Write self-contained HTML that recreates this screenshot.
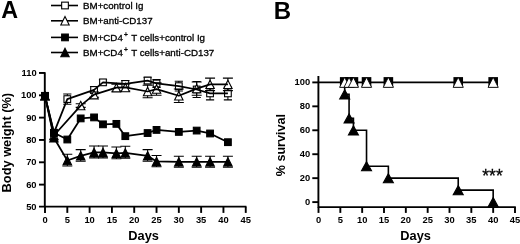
<!DOCTYPE html><html><head><meta charset="utf-8"><title>chart</title><style>html,body{margin:0;padding:0;background:#fff}body{width:520px;height:244px;position:relative;overflow:hidden}</style></head><body>
<svg width="520" height="244" viewBox="0 0 520 244" style="position:absolute;left:0;top:0;will-change:transform" font-family="Liberation Sans, sans-serif" fill="#000">
<path d="M44.8 72.3 V207 M39 206.6 H246.4" stroke="#000" stroke-width="1.9" fill="none"/>
<path d="M39 72.97 H45" stroke="#000" stroke-width="1.9"/>
<path d="M39 95.30 H45" stroke="#000" stroke-width="1.9"/>
<path d="M39 117.63 H45" stroke="#000" stroke-width="1.9"/>
<path d="M39 139.96 H45" stroke="#000" stroke-width="1.9"/>
<path d="M39 162.29 H45" stroke="#000" stroke-width="1.9"/>
<path d="M39 184.62 H45" stroke="#000" stroke-width="1.9"/>
<path d="M45.00 206.6 V212.9" stroke="#000" stroke-width="1.9"/>
<path d="M67.31 206.6 V212.9" stroke="#000" stroke-width="1.9"/>
<path d="M89.61 206.6 V212.9" stroke="#000" stroke-width="1.9"/>
<path d="M111.92 206.6 V212.9" stroke="#000" stroke-width="1.9"/>
<path d="M134.22 206.6 V212.9" stroke="#000" stroke-width="1.9"/>
<path d="M156.53 206.6 V212.9" stroke="#000" stroke-width="1.9"/>
<path d="M178.83 206.6 V212.9" stroke="#000" stroke-width="1.9"/>
<path d="M201.14 206.6 V212.9" stroke="#000" stroke-width="1.9"/>
<path d="M223.44 206.6 V212.9" stroke="#000" stroke-width="1.9"/>
<path d="M245.75 206.6 V212.9" stroke="#000" stroke-width="1.9"/>
<path d="M67.31 93.96 V104.23 M63.21 93.96 H71.41 M63.21 104.23 H71.41" stroke="#000" stroke-width="1.05" fill="none"/>
<path d="M94.07 86.59 V93.29 M89.97 86.59 H98.17 M89.97 93.29 H98.17" stroke="#000" stroke-width="1.05" fill="none"/>
<path d="M102.99 79.67 V85.03 M98.89 79.67 H107.09 M98.89 85.03 H107.09" stroke="#000" stroke-width="1.05" fill="none"/>
<path d="M125.30 80.56 V87.26 M121.20 80.56 H129.40 M121.20 87.26 H129.40" stroke="#000" stroke-width="1.05" fill="none"/>
<path d="M147.61 77.21 V83.91 M143.51 77.21 H151.71 M143.51 83.91 H151.71" stroke="#000" stroke-width="1.05" fill="none"/>
<path d="M156.53 79.45 V87.48 M152.43 79.45 H160.63 M152.43 87.48 H160.63" stroke="#000" stroke-width="1.05" fill="none"/>
<path d="M178.83 81.23 V91.06 M174.73 81.23 H182.93 M174.73 91.06 H182.93" stroke="#000" stroke-width="1.05" fill="none"/>
<path d="M196.68 81.46 V97.53 M192.58 81.46 H200.78 M192.58 97.53 H200.78" stroke="#000" stroke-width="1.05" fill="none"/>
<path d="M210.06 86.93 V99.88 M205.96 86.93 H214.16 M205.96 99.88 H214.16" stroke="#000" stroke-width="1.05" fill="none"/>
<path d="M227.91 86.93 V99.88 M223.81 86.93 H232.01 M223.81 99.88 H232.01" stroke="#000" stroke-width="1.05" fill="none"/>
<rect x="41.65" y="92.51" width="6.70" height="6.70" fill="#fff" stroke="#000" stroke-width="1.1"/>
<rect x="50.57" y="129.46" width="6.70" height="6.70" fill="#fff" stroke="#000" stroke-width="1.1"/>
<rect x="63.96" y="95.75" width="6.70" height="6.70" fill="#fff" stroke="#000" stroke-width="1.1"/>
<rect x="90.72" y="86.59" width="6.70" height="6.70" fill="#fff" stroke="#000" stroke-width="1.1"/>
<rect x="99.64" y="79.00" width="6.70" height="6.70" fill="#fff" stroke="#000" stroke-width="1.1"/>
<rect x="121.95" y="80.56" width="6.70" height="6.70" fill="#fff" stroke="#000" stroke-width="1.1"/>
<rect x="144.26" y="77.21" width="6.70" height="6.70" fill="#fff" stroke="#000" stroke-width="1.1"/>
<rect x="153.18" y="80.12" width="6.70" height="6.70" fill="#fff" stroke="#000" stroke-width="1.1"/>
<rect x="175.48" y="82.79" width="6.70" height="6.70" fill="#fff" stroke="#000" stroke-width="1.1"/>
<rect x="193.33" y="86.14" width="6.70" height="6.70" fill="#fff" stroke="#000" stroke-width="1.1"/>
<rect x="206.71" y="90.05" width="6.70" height="6.70" fill="#fff" stroke="#000" stroke-width="1.1"/>
<rect x="224.56" y="90.05" width="6.70" height="6.70" fill="#fff" stroke="#000" stroke-width="1.1"/>
<path d="M80.69 103.79 V107.36 M75.69 103.79 H85.69 M75.69 107.36 H85.69" stroke="#000" stroke-width="1.05" fill="none"/>
<path d="M94.07 91.95 V97.31 M89.07 91.95 H99.07 M89.07 97.31 H99.07" stroke="#000" stroke-width="1.05" fill="none"/>
<path d="M116.38 84.13 V91.28 M111.38 84.13 H121.38 M111.38 91.28 H121.38" stroke="#000" stroke-width="1.05" fill="none"/>
<path d="M125.30 83.91 V91.06 M120.30 83.91 H130.30 M120.30 91.06 H130.30" stroke="#000" stroke-width="1.05" fill="none"/>
<path d="M147.61 85.25 V97.76 M142.61 85.25 H152.61 M142.61 97.76 H152.61" stroke="#000" stroke-width="1.05" fill="none"/>
<path d="M156.53 82.80 V95.30 M151.53 82.80 H161.53 M151.53 95.30 H161.53" stroke="#000" stroke-width="1.05" fill="none"/>
<path d="M178.83 89.05 V102.45 M173.83 89.05 H183.83 M173.83 102.45 H183.83" stroke="#000" stroke-width="1.05" fill="none"/>
<path d="M196.68 81.90 V95.30 M191.68 81.90 H201.68 M191.68 95.30 H201.68" stroke="#000" stroke-width="1.05" fill="none"/>
<path d="M210.06 78.11 V90.61 M205.06 78.11 H215.06 M205.06 90.61 H215.06" stroke="#000" stroke-width="1.05" fill="none"/>
<path d="M227.91 78.11 V90.61 M222.91 78.11 H232.91 M222.91 90.61 H232.91" stroke="#000" stroke-width="1.05" fill="none"/>
<path d="M45.00 91.66 L49.20 100.06 L40.80 100.06 Z" fill="#fff" stroke="#000" stroke-width="1.1"/>
<path d="M53.92 131.29 L58.12 139.69 L49.72 139.69 Z" fill="#fff" stroke="#000" stroke-width="1.1"/>
<path d="M80.69 101.37 L84.89 109.77 L76.49 109.77 Z" fill="#fff" stroke="#000" stroke-width="1.1"/>
<path d="M94.07 90.43 L98.27 98.83 L89.87 98.83 Z" fill="#fff" stroke="#000" stroke-width="1.1"/>
<path d="M116.38 83.51 L120.58 91.91 L112.18 91.91 Z" fill="#fff" stroke="#000" stroke-width="1.1"/>
<path d="M125.30 83.28 L129.50 91.68 L121.10 91.68 Z" fill="#fff" stroke="#000" stroke-width="1.1"/>
<path d="M147.61 87.30 L151.81 95.70 L143.41 95.70 Z" fill="#fff" stroke="#000" stroke-width="1.1"/>
<path d="M156.53 84.85 L160.73 93.25 L152.33 93.25 Z" fill="#fff" stroke="#000" stroke-width="1.1"/>
<path d="M178.83 91.55 L183.03 99.95 L174.63 99.95 Z" fill="#fff" stroke="#000" stroke-width="1.1"/>
<path d="M196.68 84.40 L200.88 92.80 L192.48 92.80 Z" fill="#fff" stroke="#000" stroke-width="1.1"/>
<path d="M210.06 80.16 L214.26 88.56 L205.86 88.56 Z" fill="#fff" stroke="#000" stroke-width="1.1"/>
<path d="M227.91 80.16 L232.11 88.56 L223.71 88.56 Z" fill="#fff" stroke="#000" stroke-width="1.1"/>
<polyline fill="none" stroke="#000" stroke-width="1.75" stroke-linejoin="round" points="45.00,95.86 53.92,132.81 67.31,99.10 94.07,89.94 102.99,82.35 125.30,83.91 147.61,80.56 156.53,83.47 178.83,86.14 196.68,89.49 210.06,93.40 227.91,93.40"/>
<polyline fill="none" stroke="#000" stroke-width="1.75" stroke-linejoin="round" points="45.00,95.86 53.92,135.49 80.69,105.57 94.07,94.63 116.38,87.71 125.30,87.48 147.61,91.50 156.53,89.05 178.83,95.75 196.68,88.60 210.06,84.36 227.91,84.36"/>
<polyline fill="none" stroke="#000" stroke-width="1.75" stroke-linejoin="round" points="45.00,95.86 53.92,132.81 67.31,139.51 80.69,118.41 94.07,117.41 102.99,124.33 116.38,123.88 125.30,136.16 147.61,133.04 156.53,129.91 178.83,131.92 196.68,130.58 210.06,133.48 227.91,142.19"/>
<polyline fill="none" stroke="#000" stroke-width="1.75" stroke-linejoin="round" points="45.00,95.86 53.92,137.73 67.31,160.50 80.69,155.81 94.07,152.46 102.99,152.46 116.38,153.36 125.30,152.91 147.61,155.81 156.53,161.40 178.83,161.84 196.68,161.84 210.06,161.84 227.91,161.84"/>
<path d="M67.31 154.30 V165.90 M62.31 154.30 H72.31 M62.31 165.90 H72.31" stroke="#000" stroke-width="1.05" fill="none"/>
<path d="M80.69 149.61 V161.21 M75.69 149.61 H85.69 M75.69 161.21 H85.69" stroke="#000" stroke-width="1.05" fill="none"/>
<path d="M94.07 146.06 V157.86 M89.07 146.06 H99.07 M89.07 157.86 H99.07" stroke="#000" stroke-width="1.05" fill="none"/>
<path d="M102.99 146.06 V157.86 M97.99 146.06 H107.99 M97.99 157.86 H107.99" stroke="#000" stroke-width="1.05" fill="none"/>
<path d="M116.38 146.96 V158.76 M111.38 146.96 H121.38 M111.38 158.76 H121.38" stroke="#000" stroke-width="1.05" fill="none"/>
<path d="M125.30 146.31 V158.31 M120.30 146.31 H130.30 M120.30 158.31 H130.30" stroke="#000" stroke-width="1.05" fill="none"/>
<path d="M147.61 149.61 V161.21 M142.61 149.61 H152.61 M142.61 161.21 H152.61" stroke="#000" stroke-width="1.05" fill="none"/>
<path d="M156.53 155.40 V166.80 M151.53 155.40 H161.53 M151.53 166.80 H161.53" stroke="#000" stroke-width="1.05" fill="none"/>
<path d="M178.83 156.24 V167.14 M173.83 156.24 H183.83 M173.83 167.14 H183.83" stroke="#000" stroke-width="1.05" fill="none"/>
<path d="M196.68 156.24 V167.14 M191.68 156.24 H201.68 M191.68 167.14 H201.68" stroke="#000" stroke-width="1.05" fill="none"/>
<path d="M210.06 156.24 V167.14 M205.06 156.24 H215.06 M205.06 167.14 H215.06" stroke="#000" stroke-width="1.05" fill="none"/>
<path d="M227.91 156.24 V167.14 M222.91 156.24 H232.91 M222.91 167.14 H232.91" stroke="#000" stroke-width="1.05" fill="none"/>
<path d="M45.00 91.66 L49.20 100.06 L40.80 100.06 Z" fill="#000" stroke="#000" stroke-width="1.1"/>
<path d="M53.92 133.53 L58.12 141.93 L49.72 141.93 Z" fill="#000" stroke="#000" stroke-width="1.1"/>
<path d="M67.31 156.30 L71.51 164.70 L63.11 164.70 Z" fill="#000" stroke="#000" stroke-width="1.1"/>
<path d="M80.69 151.61 L84.89 160.01 L76.49 160.01 Z" fill="#000" stroke="#000" stroke-width="1.1"/>
<path d="M94.07 148.26 L98.27 156.66 L89.87 156.66 Z" fill="#000" stroke="#000" stroke-width="1.1"/>
<path d="M102.99 148.26 L107.19 156.66 L98.79 156.66 Z" fill="#000" stroke="#000" stroke-width="1.1"/>
<path d="M116.38 149.16 L120.58 157.56 L112.18 157.56 Z" fill="#000" stroke="#000" stroke-width="1.1"/>
<path d="M125.30 148.71 L129.50 157.11 L121.10 157.11 Z" fill="#000" stroke="#000" stroke-width="1.1"/>
<path d="M147.61 151.61 L151.81 160.01 L143.41 160.01 Z" fill="#000" stroke="#000" stroke-width="1.1"/>
<path d="M156.53 157.20 L160.73 165.60 L152.33 165.60 Z" fill="#000" stroke="#000" stroke-width="1.1"/>
<path d="M178.83 157.64 L183.03 166.04 L174.63 166.04 Z" fill="#000" stroke="#000" stroke-width="1.1"/>
<path d="M196.68 157.64 L200.88 166.04 L192.48 166.04 Z" fill="#000" stroke="#000" stroke-width="1.1"/>
<path d="M210.06 157.64 L214.26 166.04 L205.86 166.04 Z" fill="#000" stroke="#000" stroke-width="1.1"/>
<path d="M227.91 157.64 L232.11 166.04 L223.71 166.04 Z" fill="#000" stroke="#000" stroke-width="1.1"/>
<rect x="41.65" y="92.51" width="6.70" height="6.70" fill="#000" stroke="#000" stroke-width="1.1"/>
<rect x="50.57" y="129.46" width="6.70" height="6.70" fill="#000" stroke="#000" stroke-width="1.1"/>
<rect x="63.96" y="136.16" width="6.70" height="6.70" fill="#000" stroke="#000" stroke-width="1.1"/>
<rect x="77.34" y="115.06" width="6.70" height="6.70" fill="#000" stroke="#000" stroke-width="1.1"/>
<rect x="90.72" y="114.06" width="6.70" height="6.70" fill="#000" stroke="#000" stroke-width="1.1"/>
<rect x="99.64" y="120.98" width="6.70" height="6.70" fill="#000" stroke="#000" stroke-width="1.1"/>
<rect x="113.03" y="120.53" width="6.70" height="6.70" fill="#000" stroke="#000" stroke-width="1.1"/>
<rect x="121.95" y="132.81" width="6.70" height="6.70" fill="#000" stroke="#000" stroke-width="1.1"/>
<rect x="144.26" y="129.69" width="6.70" height="6.70" fill="#000" stroke="#000" stroke-width="1.1"/>
<rect x="153.18" y="126.56" width="6.70" height="6.70" fill="#000" stroke="#000" stroke-width="1.1"/>
<rect x="175.48" y="128.57" width="6.70" height="6.70" fill="#000" stroke="#000" stroke-width="1.1"/>
<rect x="193.33" y="127.23" width="6.70" height="6.70" fill="#000" stroke="#000" stroke-width="1.1"/>
<rect x="206.71" y="130.13" width="6.70" height="6.70" fill="#000" stroke="#000" stroke-width="1.1"/>
<rect x="224.56" y="138.84" width="6.70" height="6.70" fill="#000" stroke="#000" stroke-width="1.1"/>
<path d="M51 5.5 H78" stroke="#000" stroke-width="1.6"/>
<rect x="61.65" y="2.15" width="6.70" height="6.70" fill="#fff" stroke="#000" stroke-width="1.1"/>
<path d="M51 20.8 H78" stroke="#000" stroke-width="1.6"/>
<path d="M65.00 16.60 L69.20 25.00 L60.80 25.00 Z" fill="#fff" stroke="#000" stroke-width="1.1"/>
<path d="M51 37.4 H78" stroke="#000" stroke-width="1.6"/>
<rect x="61.65" y="34.05" width="6.70" height="6.70" fill="#000" stroke="#000" stroke-width="1.1"/>
<path d="M51 52.5 H78" stroke="#000" stroke-width="1.6"/>
<path d="M65.00 48.30 L69.20 56.70 L60.80 56.70 Z" fill="#000" stroke="#000" stroke-width="1.1"/>
<path d="M318.4 76 V207.3 M317.6 207.1 H515.8" stroke="#000" stroke-width="1.9" fill="none"/>
<path d="M312.3 202.10 H318.4" stroke="#000" stroke-width="1.9"/>
<path d="M312.3 178.16 H318.4" stroke="#000" stroke-width="1.9"/>
<path d="M312.3 154.22 H318.4" stroke="#000" stroke-width="1.9"/>
<path d="M312.3 130.28 H318.4" stroke="#000" stroke-width="1.9"/>
<path d="M312.3 106.34 H318.4" stroke="#000" stroke-width="1.9"/>
<path d="M312.3 82.40 H318.4" stroke="#000" stroke-width="1.9"/>
<path d="M318.50 207 V212.9" stroke="#000" stroke-width="1.9"/>
<path d="M340.33 207 V212.9" stroke="#000" stroke-width="1.9"/>
<path d="M362.17 207 V212.9" stroke="#000" stroke-width="1.9"/>
<path d="M384.00 207 V212.9" stroke="#000" stroke-width="1.9"/>
<path d="M405.83 207 V212.9" stroke="#000" stroke-width="1.9"/>
<path d="M427.67 207 V212.9" stroke="#000" stroke-width="1.9"/>
<path d="M449.50 207 V212.9" stroke="#000" stroke-width="1.9"/>
<path d="M471.33 207 V212.9" stroke="#000" stroke-width="1.9"/>
<path d="M493.17 207 V212.9" stroke="#000" stroke-width="1.9"/>
<path d="M515.00 207 V212.9" stroke="#000" stroke-width="1.9"/>
<polyline fill="none" stroke="#000" stroke-width="1.6" points="344.70,82.40 344.70,94.37 349.07,94.37 349.07,118.31 353.43,118.31 353.43,130.28 366.53,130.28 366.53,166.19 388.37,166.19 388.37,178.16 458.23,178.16 458.23,190.13 493.17,190.13 493.17,202.10"/>
<path d="M344.70 89.87 L349.70 98.97 L339.70 98.97 Z" fill="#000" stroke="#000" stroke-width="1.1"/>
<path d="M349.07 113.81 L354.07 122.91 L344.07 122.91 Z" fill="#000" stroke="#000" stroke-width="1.1"/>
<path d="M353.43 125.78 L358.43 134.88 L348.43 134.88 Z" fill="#000" stroke="#000" stroke-width="1.1"/>
<path d="M366.53 161.69 L371.53 170.79 L361.53 170.79 Z" fill="#000" stroke="#000" stroke-width="1.1"/>
<path d="M388.37 173.66 L393.37 182.76 L383.37 182.76 Z" fill="#000" stroke="#000" stroke-width="1.1"/>
<path d="M458.23 185.63 L463.23 194.73 L453.23 194.73 Z" fill="#000" stroke="#000" stroke-width="1.1"/>
<path d="M493.17 197.60 L498.17 206.70 L488.17 206.70 Z" fill="#000" stroke="#000" stroke-width="1.1"/>
<path d="M318.4 82.40 H493.17" stroke="#000" stroke-width="1.6"/>
<rect x="339.90" y="77.10" width="9.6" height="10.2" fill="#000"/>
<rect x="344.27" y="77.10" width="9.6" height="10.2" fill="#000"/>
<rect x="348.63" y="77.10" width="9.6" height="10.2" fill="#000"/>
<rect x="361.73" y="77.10" width="9.6" height="10.2" fill="#000"/>
<rect x="383.57" y="77.10" width="9.6" height="10.2" fill="#000"/>
<rect x="453.43" y="77.10" width="9.6" height="10.2" fill="#000"/>
<rect x="488.37" y="77.10" width="9.6" height="10.2" fill="#000"/>
<path d="M344.70 77.30 L349.80 87.35 L339.60 87.35 Z" fill="#fff" stroke="#000" stroke-width="0.9"/>
<path d="M349.07 77.30 L354.17 87.35 L343.97 87.35 Z" fill="#fff" stroke="#000" stroke-width="0.9"/>
<path d="M353.43 77.30 L358.53 87.35 L348.33 87.35 Z" fill="#fff" stroke="#000" stroke-width="0.9"/>
<path d="M366.53 77.30 L371.63 87.35 L361.43 87.35 Z" fill="#fff" stroke="#000" stroke-width="0.9"/>
<path d="M388.37 77.30 L393.47 87.35 L383.27 87.35 Z" fill="#fff" stroke="#000" stroke-width="0.9"/>
<path d="M458.23 77.30 L463.33 87.35 L453.13 87.35 Z" fill="#fff" stroke="#000" stroke-width="0.9"/>
<path d="M493.17 77.30 L498.27 87.35 L488.07 87.35 Z" fill="#fff" stroke="#000" stroke-width="0.9"/>
<text x="1.3" y="18.3" font-size="23.3" font-weight="bold" text-anchor="start" >A</text>
<text x="273.8" y="18.6" font-size="24" font-weight="bold" text-anchor="start" >B</text>
<text x="83.0" y="9" font-size="9.75" font-weight="normal" text-anchor="start" stroke="#000" stroke-width="0.3">BM+control Ig</text>
<text x="83.0" y="24.3" font-size="9.75" font-weight="normal" text-anchor="start" stroke="#000" stroke-width="0.3">BM+anti-CD137</text>
<text x="83.0" y="41.2" font-size="9.75" font-weight="normal" text-anchor="start" stroke="#000" stroke-width="0.3">BM+CD4<tspan font-size="6.6" dy="-4.3" dx="1.2">+</tspan><tspan dy="4.3" dx="0.8"> </tspan>T cells+control Ig</text>
<text x="83.0" y="55.8" font-size="9.75" font-weight="normal" text-anchor="start" stroke="#000" stroke-width="0.3">BM+CD4<tspan font-size="6.6" dy="-4.3" dx="1.2">+</tspan><tspan dy="4.3" dx="0.8"> </tspan>T cells+anti-CD137</text>
<text x="36.6" y="75.8" font-size="9.4" font-weight="bold" text-anchor="end" >110</text>
<text x="36.6" y="98.1" font-size="9.4" font-weight="bold" text-anchor="end" >100</text>
<text x="36.6" y="120.5" font-size="9.4" font-weight="bold" text-anchor="end" >90</text>
<text x="36.6" y="142.8" font-size="9.4" font-weight="bold" text-anchor="end" >80</text>
<text x="36.6" y="165.1" font-size="9.4" font-weight="bold" text-anchor="end" >70</text>
<text x="36.6" y="187.5" font-size="9.4" font-weight="bold" text-anchor="end" >60</text>
<text x="36.6" y="209.8" font-size="9.4" font-weight="bold" text-anchor="end" >50</text>
<text x="45.0" y="222.7" font-size="9.4" font-weight="bold" text-anchor="middle" >0</text>
<text x="67.3" y="222.7" font-size="9.4" font-weight="bold" text-anchor="middle" >5</text>
<text x="89.6" y="222.7" font-size="9.4" font-weight="bold" text-anchor="middle" >10</text>
<text x="111.9" y="222.7" font-size="9.4" font-weight="bold" text-anchor="middle" >15</text>
<text x="134.2" y="222.7" font-size="9.4" font-weight="bold" text-anchor="middle" >20</text>
<text x="156.5" y="222.7" font-size="9.4" font-weight="bold" text-anchor="middle" >25</text>
<text x="178.8" y="222.7" font-size="9.4" font-weight="bold" text-anchor="middle" >30</text>
<text x="201.1" y="222.7" font-size="9.4" font-weight="bold" text-anchor="middle" >35</text>
<text x="223.4" y="222.7" font-size="9.4" font-weight="bold" text-anchor="middle" >40</text>
<text x="245.8" y="222.7" font-size="9.4" font-weight="bold" text-anchor="middle" >45</text>
<text x="310.2" y="205.0" font-size="9.4" font-weight="bold" text-anchor="end" >0</text>
<text x="310.2" y="181.1" font-size="9.4" font-weight="bold" text-anchor="end" >20</text>
<text x="310.2" y="157.1" font-size="9.4" font-weight="bold" text-anchor="end" >40</text>
<text x="310.2" y="133.2" font-size="9.4" font-weight="bold" text-anchor="end" >60</text>
<text x="310.2" y="109.2" font-size="9.4" font-weight="bold" text-anchor="end" >80</text>
<text x="310.2" y="85.3" font-size="9.4" font-weight="bold" text-anchor="end" >100</text>
<text x="318.5" y="223.0" font-size="9.4" font-weight="bold" text-anchor="middle" >0</text>
<text x="340.3" y="223.0" font-size="9.4" font-weight="bold" text-anchor="middle" >5</text>
<text x="362.2" y="223.0" font-size="9.4" font-weight="bold" text-anchor="middle" >10</text>
<text x="384.0" y="223.0" font-size="9.4" font-weight="bold" text-anchor="middle" >15</text>
<text x="405.8" y="223.0" font-size="9.4" font-weight="bold" text-anchor="middle" >20</text>
<text x="427.7" y="223.0" font-size="9.4" font-weight="bold" text-anchor="middle" >25</text>
<text x="449.5" y="223.0" font-size="9.4" font-weight="bold" text-anchor="middle" >30</text>
<text x="471.3" y="223.0" font-size="9.4" font-weight="bold" text-anchor="middle" >35</text>
<text x="493.2" y="223.0" font-size="9.4" font-weight="bold" text-anchor="middle" >40</text>
<text x="515.0" y="223.0" font-size="9.4" font-weight="bold" text-anchor="middle" >45</text>
<text x="128.3" y="240" font-size="12.8" font-weight="bold" text-anchor="start" >Days</text>
<text x="400.3" y="240" font-size="12.8" font-weight="bold" text-anchor="start" >Days</text>
<text x="0" y="0" font-size="12.8" font-weight="bold" text-anchor="start" transform="translate(10.6,192.4) rotate(-90)">Body weight (%)</text>
<text x="0" y="0" font-size="12.6" font-weight="bold" text-anchor="start" transform="translate(285.4,176.3) rotate(-90)">% survival</text>
<text x="482.3" y="181.8" font-size="17.5" font-weight="normal" text-anchor="start" stroke="#000" stroke-width="0.3">***</text>
</svg>
</body></html>
